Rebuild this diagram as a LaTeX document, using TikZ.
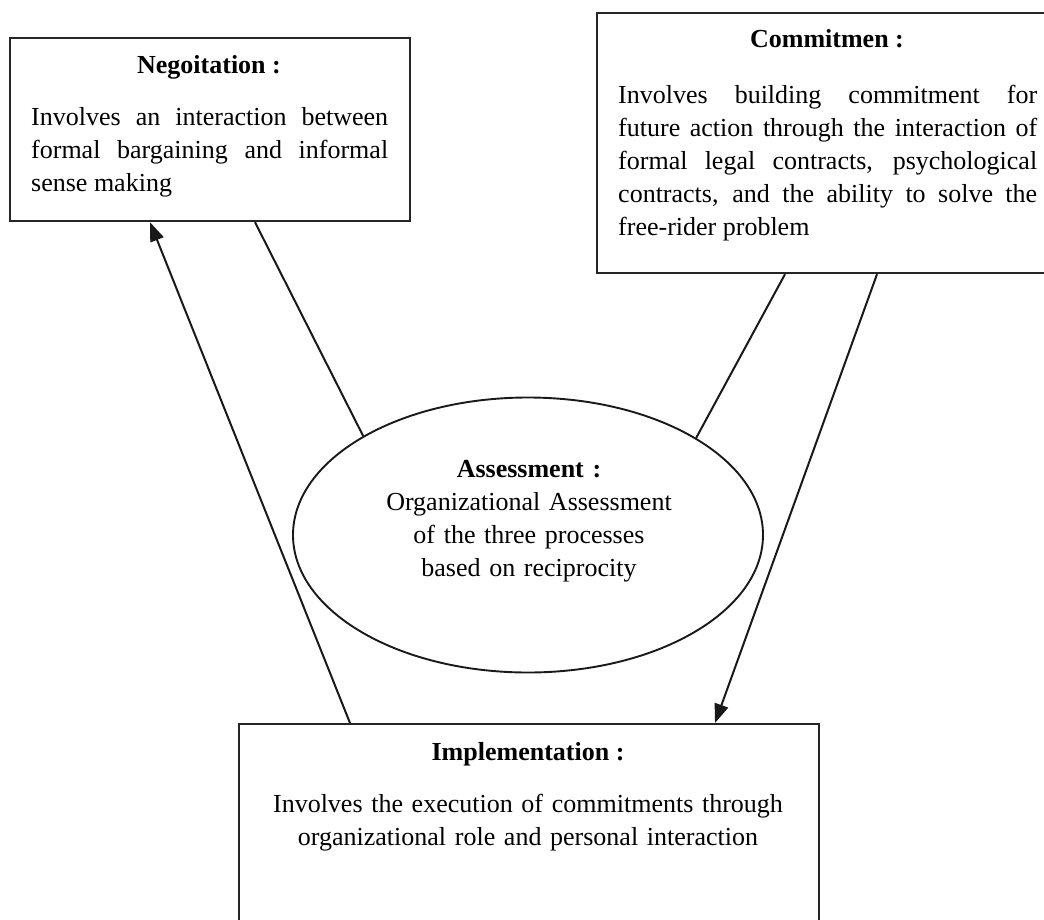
\documentclass[tikz,border=0pt]{standalone}
\usepackage{fontspec}
\setmainfont{Liberation Serif}
\usetikzlibrary{arrows.meta,shapes.geometric}

\begin{document}
\hyphenpenalty=10000
\exhyphenpenalty=10000
\begin{tikzpicture}[x=1pt,y=-1pt,
  frame/.style={draw=black!85, line width=2.2pt, inner sep=0pt, anchor=north west},
  oval/.style={draw=black!90, line width=1.9pt, ellipse, inner sep=0pt},
  title/.style={font=\fontsize{26}{33}\selectfont\bfseries, inner sep=0pt, anchor=base},
  body/.style={font=\fontsize{26}{33}\selectfont, inner sep=0pt,
               anchor=base west, text width=#1, align=justify},
  cbody/.style={font=\fontsize{26}{33}\selectfont, inner sep=0pt, anchor=base,
               text width=#1, align=center},
  link/.style={draw=black!90, line width=2pt},
  flow/.style={link, -{Triangle[length=19pt,width=14pt]}}]

  \path[use as bounding box] (0,0) rectangle (1044,919);
  \clip (0,0) rectangle (1044,919);

  % frames of the four processes
  \node[frame, minimum width=400pt, minimum height=183pt] (neg) at (9,37) {};
  \node[frame, minimum width=462pt, minimum height=260pt] (com) at (596,12) {};
  \node[frame, minimum width=580pt, minimum height=260pt] (impl) at (238,723) {};
  \node[oval, minimum width=470pt, minimum height=275pt] (assess) at (528,535) {};

  % Negotiation
  \node[title] (negT) at (209,73) {Negoitation :};
  \node[body=357pt] (negB) at (31,125)
    {Involves an interaction between\linebreak formal bargaining and informal\linebreak sense making};

  % Commitment
  \node[title] (comT) at (827,47) {Commitmen :};
  \node[body=419pt] (comB) at (618,103)
    {Involves building commitment for\linebreak future action through the interaction of\linebreak
     formal legal contracts, psychological\linebreak contracts, and the ability to solve the\linebreak
     free-rider problem};

  % Implementation
  \node[title] (implT) at (528,760) {Implementation :};
  \node[cbody=560pt] (implB) at (528,812)
    {Involves the execution of commitments through\\
     organizational role and personal interaction};

  % Assessment
  \node[cbody=400pt] (assessT) at (529,477)
    {\textbf{Assessment :}\\ Organizational Assessment\\
     of the three processes\\ based on reciprocity};

  % connectors
  \draw[link] ([xshift=246pt]neg.south west) -- (assess.149.4);
  \draw[link] ([xshift=189pt]com.south west) -- (assess.30.4);
  \draw[flow] ([xshift=112pt]impl.north west) -- ([xshift=141pt]neg.south west);
  \draw[flow] ([xshift=281pt]com.south west) -- ([xshift=477pt]impl.north west);
\end{tikzpicture}
\end{document}
